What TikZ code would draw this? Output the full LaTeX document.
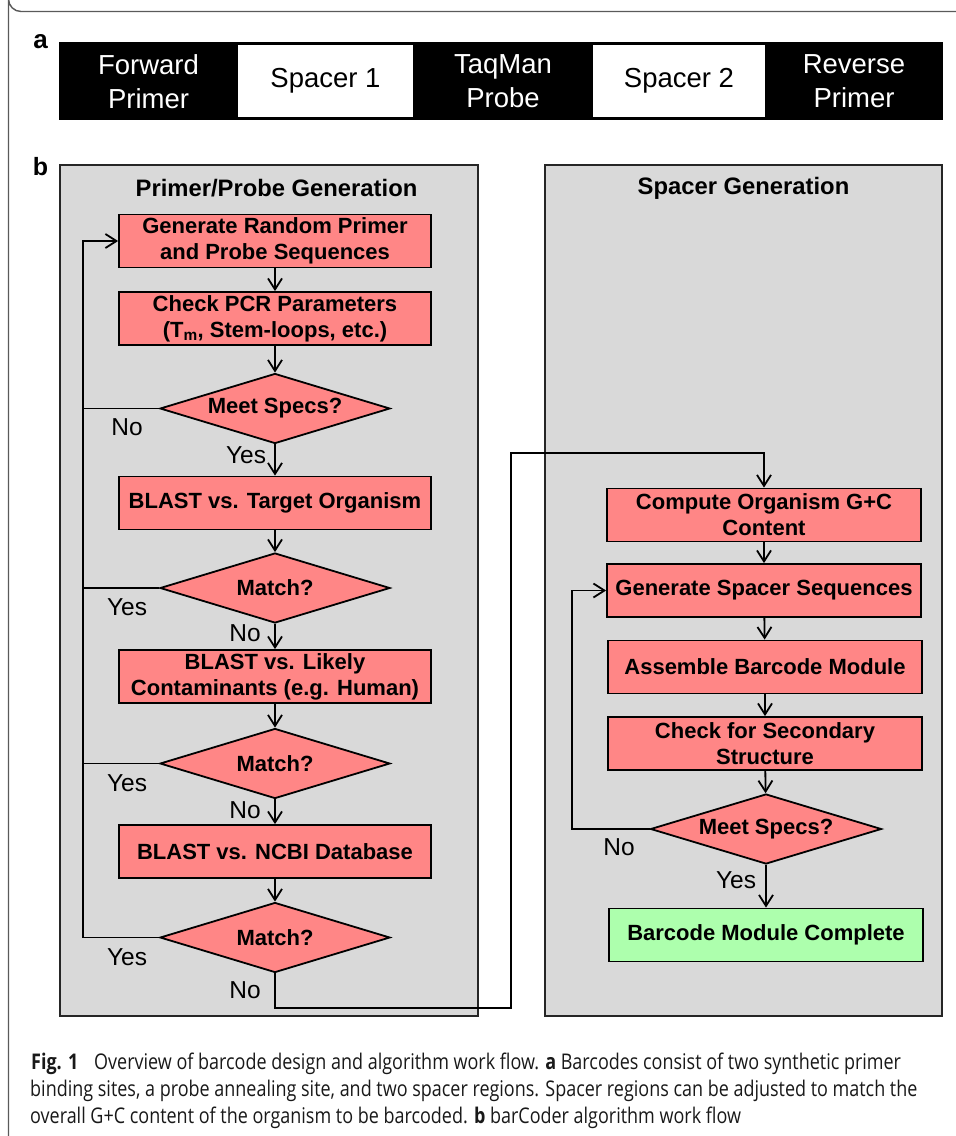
\documentclass[tikz,border=0pt]{standalone}
\usepackage{fontspec}
\setmainfont{Liberation Sans}
\newfontfamily\capfont[FakeStretch=0.832]{Open Sans}
\usetikzlibrary{shapes.geometric,arrows.meta}
\definecolor{pinkc}{HTML}{FF8686}
\definecolor{greenc}{HTML}{ADFFAD}
\definecolor{panelc}{HTML}{D9D9D9}
\definecolor{framec}{HTML}{5A5A5A}
\begin{document}
\begin{tikzpicture}[x=1pt,y=-1pt,
  seg/.style={draw=none,minimum width=179pt,minimum height=78pt,inner sep=0,align=center,
    font=\fontsize{27.5}{34}\selectfont},
  blk/.style={seg,fill=black,text=white},
  wht/.style={seg,fill=white,text=black,minimum width=175pt,minimum height=72pt},
  panel/.style={draw=black!85,line width=1.5pt,fill=panelc,inner sep=0},
  ptitle/.style={font=\fontsize{23.8}{27}\selectfont\bfseries,inner sep=0},
  proc/.style={draw=black,line width=1.8pt,fill=pinkc,minimum width=312pt,minimum height=53pt,
    inner sep=0,align=center,font=\fontsize{22}{26}\selectfont\bfseries},
  dec/.style={diamond,draw=black,line width=1.8pt,fill=pinkc,minimum width=230pt,minimum height=70pt,
    aspect=3.3,inner sep=0,font=\fontsize{22}{26}\selectfont\bfseries},
  lbl/.style={inner sep=0,font=\fontsize{24.5}{28}\selectfont},
  plain/.style={line width=1.8pt},
  conn/.style={line width=1.8pt,-{Straight Barb[length=11pt,width=14pt,line width=1.8pt]}},
  capline/.style={anchor=base west,inner sep=0,font=\capfont\fontsize{21.6}{26}\selectfont,text=black!90}
]
\useasboundingbox (0,0) rectangle (956,1136);
\fill[white] (0,0) rectangle (956,1136);
% outer frame
\draw[framec,line width=1.4pt] (956,11.5) -- (21,11.5) arc[start angle=90,end angle=180,radius=12.5] -- (8.5,1136);
% part a
\node[font=\fontsize{26}{28}\selectfont\bfseries,inner sep=0] (la) at (40.5,42) {a};
\node[font=\fontsize{25}{28}\selectfont\bfseries,inner sep=0] (lb) at (40.5,167) {b};
\fill[black] (59,42) rectangle (943,120);
\node[blk,minimum height=76pt] (s1) at (148.5,81.5) {Forward\\Primer};
\node[wht] (s2) at (325.5,81) {Spacer 1};
\node[blk,minimum width=180pt,minimum height=76pt] (s3) at (503,81.5) {TaqMan\\Probe};
\node[wht,minimum width=172pt] (s4) at (679,81) {Spacer 2};
\node[blk,minimum width=178pt,minimum height=76pt] (s5) at (854,81.5) {Reverse\\Primer};
% panels
\node[panel,minimum width=418pt,minimum height=851pt] (pl) at (269,590.5) {};
\node[panel,minimum width=397pt,minimum height=851pt] (pr) at (743.5,590.5) {};
\node[ptitle] (tl) at (276.5,188.5) {Primer/Probe Generation};
\node[ptitle] (tr) at (743.5,188.5) {Spacer Generation};
% left flow
\node[proc] (b1) at (275,241) {Generate Random Primer\\and Probe Sequences};
\node[proc] (b2) at (275,318.5) {Check PCR Parameters\\(T\textsubscript{m}, Stem-loops, etc.)};
\node[dec] (d1) at (275,408.5) {Meet Specs?};
\node[proc] (b3) at (275,503) {BLAST vs. Target Organism};
\node[dec] (d2) at (275,588) {Match?};
\node[proc] (b4) at (275,676.5) {BLAST vs. Likely\\Contaminants (e.g. Human)};
\node[dec] (d3) at (275,763.5) {Match?};
\node[proc] (b5) at (275,851.5) {BLAST vs. NCBI Database};
\node[dec] (d4) at (275,937.5) {Match?};
% right flow
\node[proc,minimum width=314pt] (r1) at (764,515) {Compute Organism G+C\\Content};
\node[proc,minimum width=314pt] (r2) at (764,590.5) {Generate Spacer Sequences};
\node[proc,minimum width=314pt] (r3) at (765,667) {Assemble Barcode Module};
\node[proc,minimum width=314pt] (r4) at (765,743.5) {Check for Secondary\\Structure};
\node[dec,minimum width=231pt] (rd) at (766,829) {Meet Specs?};
\node[proc,fill=greenc,minimum width=314pt] (r5) at (766,935) {Barcode Module Complete};
% connectors left
\draw[conn] (b1) -- (b2);
\draw[conn] (b2) -- (d1);
\draw[conn] (d1) -- (b3);
\draw[conn] (b3) -- (d2);
\draw[conn] (d2) -- (b4);
\draw[conn] (b4) -- (d3);
\draw[conn] (d3) -- (b5);
\draw[conn] (b5) -- (d4);
\coordinate (lx) at (83,0);
\draw[plain] (d1.west) -- (d1.west -| lx);
\draw[plain] (d2.west) -- (d2.west -| lx);
\draw[plain] (d3.west) -- (d3.west -| lx);
\draw[conn] (d4.west) -- (d4.west -| lx) -- (b1.west -| lx) -- (b1.west);
% cross connector
\coordinate (cx) at (511,1008);
\coordinate (cy) at (511,453);
\draw[conn] (d4.south) |- (cx) -- (cy) -| (r1.north);
% connectors right
\draw[conn] (r1) -- (r2);
\draw[conn] (r2) -- (r3);
\draw[conn] (r3) -- (r4);
\draw[conn] (r4) -- (rd);
\draw[conn] (rd) -- (r5);
\coordinate (rx) at (572,0);
\draw[conn] (rd.west) -- (rd.west -| rx) -- (r2.west -| rx) -- (r2.west);
% labels
\node[lbl] (n1) at (127,427) {No};
\node[lbl] (y1) at (246,455) {Yes};
\node[lbl] (y2) at (127,607) {Yes};
\node[lbl] (n2) at (245,633) {No};
\node[lbl] (y3) at (127,783) {Yes};
\node[lbl] (n3) at (245,810) {No};
\node[lbl] (y4) at (127,957) {Yes};
\node[lbl] (n4) at (245,990) {No};
\node[lbl] (n5) at (619,847) {No};
\node[lbl] (y5) at (736,880) {Yes};
% caption
\node[capline] (c1a) at (31,1069) {\bfseries Fig. 1};
\node[capline] (c1b) at (94,1069) {Overview of barcode design and algorithm work flow. \textbf{a} Barcodes consist of two synthetic primer};
\node[capline] (c2) at (30,1096) {binding sites, a probe annealing site, and two spacer regions. Spacer regions can be adjusted to match the};
\node[capline] (c3) at (30,1123) {overall G+C content of the organism to be barcoded. \textbf{b} barCoder algorithm work flow};
\end{tikzpicture}
\end{document}
